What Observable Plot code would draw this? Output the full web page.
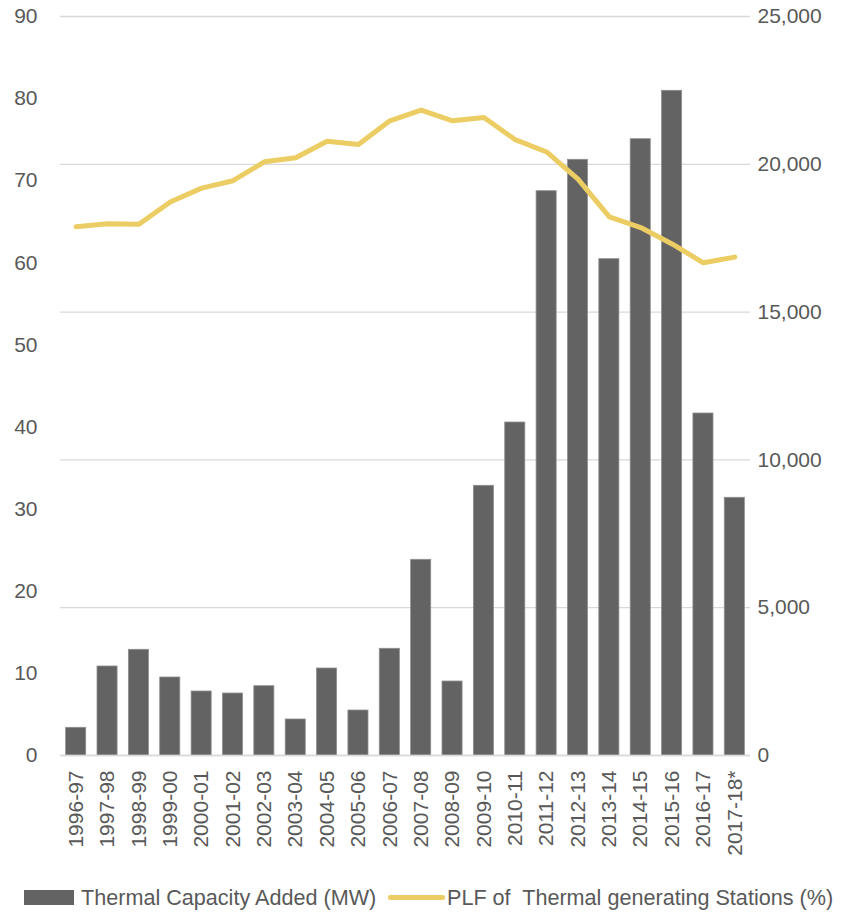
<!DOCTYPE html>
<html>
<head>
<meta charset="utf-8">
<script src="https://cdn.jsdelivr.net/npm/d3@7"></script>
<script src="https://cdn.jsdelivr.net/npm/@observablehq/plot@0.6"></script>
<style>
  html, body { margin: 0; padding: 0; background: #fff; }
  body { width: 841px; height: 914px; overflow: hidden; font-family: "Liberation Sans", Arial, sans-serif; }
  #wrap { position: relative; width: 841px; height: 884px; }
  #wrap svg { position: absolute; left: 0; top: 0; }
  #legend { position: relative; width: 841px; height: 30px; color: #595959; font-size: 21.6px; }
  #legend .sw-bar { position: absolute; left: 24px; top: 6px; width: 50px; height: 15px; background: #626362; }
  #legend .t1 { position: absolute; left: 81px; top: 1px; white-space: pre; }
  #legend .sw-line { position: absolute; left: 388px; top: 11px; width: 57px; height: 5px; background: #ECCD63; border-radius: 2px; }
  #legend .t2 { position: absolute; left: 447px; top: 1px; white-space: pre; }
</style>
</head>
<body>
<div id="wrap"></div>
<div id="legend">
  <div class="sw-bar"></div><div class="t1">Thermal Capacity Added (MW)</div>
  <div class="sw-line"></div><div class="t2">PLF of  Thermal generating Stations (%)</div>
</div>
<script>
const years = ["1996-97","1997-98","1998-99","1999-00","2000-01","2001-02","2002-03","2003-04","2004-05","2005-06","2006-07","2007-08","2008-09","2009-10","2010-11","2011-12","2012-13","2013-14","2014-15","2015-16","2016-17","2017-18*"];
const capacityMW = [937, 3011, 3576, 2639, 2165, 2097, 2344, 1218, 2943, 1522, 3610, 6620, 2503, 9124, 11265, 19090, 20152, 16790, 20849, 22486, 11570, 8718];
const plfPct = [64.4, 64.75, 64.7, 67.4, 69.1, 70.0, 72.3, 72.8, 74.8, 74.4, 77.3, 78.6, 77.3, 77.7, 75.0, 73.5, 70.2, 65.6, 64.3, 62.3, 60.0, 60.7];
const leftTicks = [0,10,20,30,40,50,60,70,80,90];
const rightTicks = [0,5000,10000,15000,20000,25000];

const data = years.map((y, i) => ({year: y, mw: capacityMW[i], plf: plfPct[i]}));

const common = {
  width: 841, height: 884,
  marginLeft: 60, marginRight: 91, marginTop: 16, marginBottom: 129,
  style: {fontFamily: "'Liberation Sans', Arial, sans-serif", fontSize: "21px", color: "#595959", background: "transparent", overflow: "visible"}
};
const xOpts = {domain: years, paddingInner: 0.36, paddingOuter: 0.18, round: false};

const bars = Plot.plot({
  ...common,
  x: {...xOpts, label: null},
  y: {domain: [0, 25000], label: null},
  marks: [
    Plot.gridY(rightTicks, {stroke: "#d9d9d9", strokeOpacity: 1, strokeWidth: 1.3}),
    Plot.barY(data, {x: "year", y: "mw", fill: "#626362", stroke: "#8f8f8f", strokeWidth: 0.8}),
    Plot.ruleY([0], {stroke: "#d9d9d9", strokeWidth: 1.5}),
    Plot.axisY({anchor: "right", ticks: rightTicks, tickFormat: d3.format(","), tickSize: 0, tickPadding: 7, label: null, fill: "#595959"}),
    Plot.axisX({tickRotate: -90, tickSize: 0, tickPadding: 15, label: null, fill: "#595959", fontSize: 21})
  ]
});

const line = Plot.plot({
  ...common,
  x: {...xOpts, axis: null},
  y: {domain: [0, 90], label: null},
  marks: [
    Plot.line(data, {x: "year", y: "plf", stroke: "#ECCD63", strokeWidth: 5, strokeLinejoin: "round", strokeLinecap: "round"}),
    Plot.axisY({anchor: "left", ticks: leftTicks, tickSize: 0, tickPadding: 23, label: null, fill: "#595959"})
  ]
});

const wrap = document.getElementById("wrap");
wrap.appendChild(bars);
wrap.appendChild(line);
</script>
</body>
</html>
